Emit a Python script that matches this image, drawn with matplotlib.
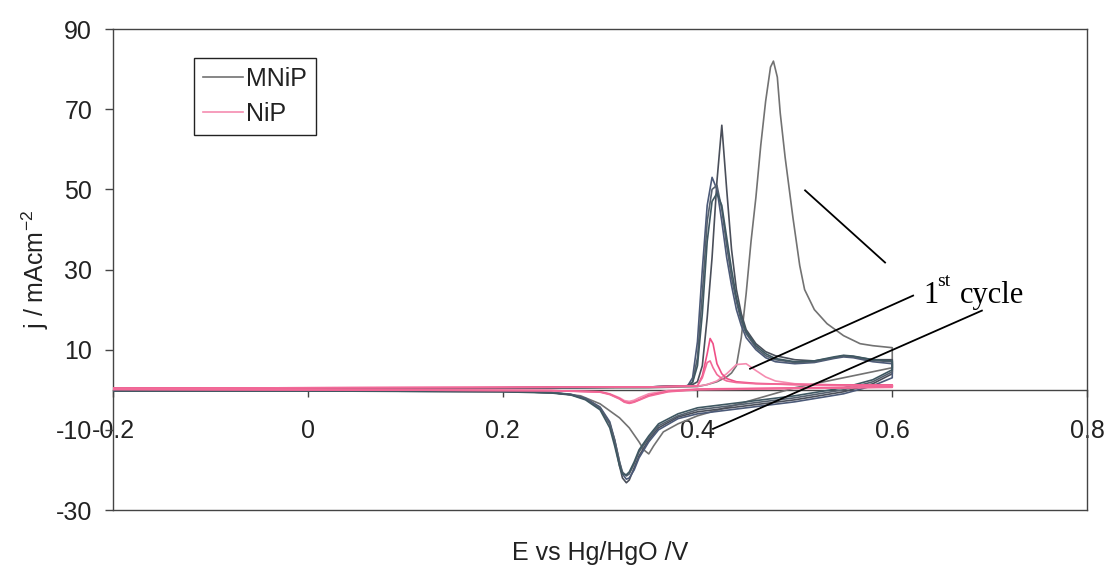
import matplotlib.pyplot as plt

plt.rcParams['font.family'] = ['Liberation Sans', 'DejaVu Sans']
plt.rcParams['mathtext.default'] = 'regular'
plt.rcParams['axes.unicode_minus'] = False

# MNiP, 1st cycle (anodic then cathodic sweep)
mnip1_E_an = [-0.2, 0.0, 0.2, 0.35, 0.40, 0.41, 0.42, 0.43, 0.435, 0.44, 0.445, 0.45, 0.455, 0.46, 0.465,
              0.47, 0.475, 0.478, 0.482, 0.485, 0.49, 0.498, 0.505, 0.51, 0.52, 0.533, 0.55, 0.567, 0.58, 0.60]
mnip1_j_an = [0.2, 0.3, 0.4, 0.5, 0.8, 1.3, 2.0, 3.2, 4.2, 6.0, 13, 24, 37, 48, 61,
              72, 80.5, 82, 78, 69, 58, 43, 31, 25, 20, 16.5, 13.5, 11.5, 11, 10.5]
mnip1_E_ca = [0.60, 0.55, 0.50, 0.45, 0.40, 0.38, 0.365, 0.355, 0.35, 0.345, 0.34, 0.33, 0.32, 0.30,
              0.28, 0.25, 0.2, 0.0, -0.2]
mnip1_j_ca = [5.5, 3.0, 0.5, -3.0, -6.5, -8.5, -10.5, -14, -16, -15, -13, -9.5, -7, -3.5,
              -1.5, -0.7, -0.4, -0.3, -0.3]

# MNiP, later cycles share the same potential grid
mnip_E_an = [-0.2, 0.0, 0.2, 0.35, 0.39, 0.395, 0.40, 0.405, 0.41, 0.415, 0.42, 0.425, 0.43, 0.435,
             0.44, 0.445, 0.45, 0.46, 0.47, 0.48, 0.50, 0.52, 0.54, 0.55, 0.56, 0.58, 0.60]
mnip2_j_an = [0.3, 0.4, 0.5, 0.7, 1.0, 1.3, 2.0, 6, 18, 33, 52, 66, 50, 35,
              25, 19, 15, 11.5, 9.5, 8.5, 7.5, 7.2, 8.0, 8.5, 8.3, 7.5, 7.5]
mnip3_j_an = [0.3, 0.4, 0.5, 0.7, 1.0, 3, 12, 30, 46, 53, 50, 42, 33, 26,
              20, 16, 13, 10, 8, 7, 6.5, 6.8, 7.8, 8.2, 8.0, 7.0, 6.5]
mnip4_j_an = [0.3, 0.4, 0.5, 0.7, 1.0, 2.0, 8, 24, 42, 50, 51, 45, 36, 28,
              22, 17, 14, 10.5, 8.5, 7.5, 6.8, 7.0, 8.0, 8.4, 8.2, 7.3, 7.0]
mnip5_j_an = [0.3, 0.4, 0.5, 0.7, 1.0, 1.8, 6, 19, 37, 47, 49, 46, 38, 30,
              23, 18, 14.5, 11, 9, 7.8, 7.0, 7.2, 8.2, 8.6, 8.4, 7.5, 7.2]

mnip_E_ca = [0.60, 0.58, 0.55, 0.50, 0.45, 0.40, 0.38, 0.36, 0.35, 0.34, 0.335, 0.33, 0.327, 0.323,
             0.32, 0.315, 0.31, 0.30, 0.285, 0.27, 0.25, 0.2, 0.0, -0.2]
mnip2_j_ca = [4.0, 1.5, -0.5, -2.5, -4.0, -5.5, -6.8, -9.5, -12.5, -16.5, -19.5, -22.5, -23.2, -22,
              -19, -13, -8.5, -4.5, -2.2, -1.2, -0.7, -0.4, -0.3, -0.3]
mnip3_j_ca = [3.0, 1.0, -1.0, -3.0, -4.5, -6.0, -7.2, -10, -13, -17, -20, -22, -22.3, -21,
              -18, -12.5, -8, -4.3, -2.1, -1.1, -0.7, -0.4, -0.3, -0.3]
mnip4_j_ca = [4.5, 2.0, 0.0, -2.0, -3.5, -5.0, -6.5, -9.0, -12, -15.5, -18.5, -21, -21.5, -20.5,
              -18, -12.5, -8.5, -4.6, -2.3, -1.2, -0.7, -0.4, -0.3, -0.3]
mnip5_j_ca = [5.0, 2.5, 0.5, -1.5, -3.0, -4.5, -6.0, -8.5, -11.5, -15, -18, -20.5, -21.2, -21,
              -19, -14, -9.5, -5, -2.5, -1.3, -0.8, -0.5, -0.3, -0.3]

# NiP
nip1_E_an = [-0.2, 0.0, 0.2, 0.35, 0.40, 0.41, 0.42, 0.43, 0.44, 0.45, 0.46, 0.47, 0.48, 0.50, 0.55, 0.60]
nip1_j_an = [0.4, 0.5, 0.6, 0.7, 0.9, 1.3, 2.2, 4.0, 6.3, 6.5, 4.8, 3.2, 2.2, 1.5, 1.2, 1.2]
nip_E_an = [-0.2, 0.0, 0.2, 0.35, 0.40, 0.405, 0.41, 0.413, 0.416, 0.42, 0.425, 0.43, 0.44, 0.46, 0.50, 0.55, 0.60]
nip2_j_an = [0.4, 0.5, 0.6, 0.7, 1.0, 3.5, 9.0, 12.8, 11.5, 6.5, 4.0, 2.8, 2.0, 1.6, 1.3, 1.2, 1.2]
nip3_j_an = [0.4, 0.5, 0.6, 0.7, 1.0, 3.0, 6.8, 7.2, 5.5, 3.8, 2.8, 2.2, 1.8, 1.5, 1.3, 1.1, 1.1]
nip_E_ca = [0.60, 0.50, 0.40, 0.37, 0.35, 0.34, 0.335, 0.33, 0.325, 0.32, 0.31, 0.30, 0.25, 0.0, -0.2]
nip1_j_ca = [0.8, 0.5, 0.2, -0.2, -1.0, -2.0, -2.6, -2.9, -2.7, -2.0, -1.0, -0.5, -0.2, 0.0, 0.1]
nip2_j_ca = [0.7, 0.4, 0.1, -0.4, -1.4, -2.5, -3.0, -3.3, -3.0, -2.2, -1.1, -0.5, -0.2, 0.0, 0.1]
nip3_j_ca = [0.6, 0.3, 0.0, -0.5, -1.6, -2.6, -3.1, -3.4, -3.1, -2.3, -1.2, -0.6, -0.2, 0.0, 0.1]

x_ticks = [-0.2, 0, 0.2, 0.4, 0.6, 0.8]
x_ticklabels = ['-0.2', '0', '0.2', '0.4', '0.6', '0.8']
y_ticks = [-30, -10, 10, 30, 50, 70, 90]

mnip_cycles = [
    (mnip1_E_an + mnip1_E_ca, mnip1_j_an + mnip1_j_ca, '#727272'),
    (mnip_E_an + mnip_E_ca, mnip2_j_an + mnip2_j_ca, '#4a4f5a'),
    (mnip_E_an + mnip_E_ca, mnip3_j_an + mnip3_j_ca, '#4c5a78'),
    (mnip_E_an + mnip_E_ca, mnip4_j_an + mnip4_j_ca, '#55606e'),
    (mnip_E_an + mnip_E_ca, mnip5_j_an + mnip5_j_ca, '#3f5862'),
]
nip_cycles = [
    (nip1_E_an + nip_E_ca, nip1_j_an + nip1_j_ca, '#f58cb0'),
    (nip_E_an + nip_E_ca, nip2_j_an + nip2_j_ca, '#ef4f86'),
    (nip_E_an + nip_E_ca, nip3_j_an + nip3_j_ca, '#f26a98'),
]

fig = plt.figure(figsize=(11.07, 5.65), dpi=100)
ax = fig.add_axes([0.1021, 0.0973, 0.8799, 0.8513])

for i, (E, j, c) in enumerate(mnip_cycles):
    ax.plot(E, j, color=c, lw=1.2, zorder=3, label='MNiP' if i == 0 else None)
for i, (E, j, c) in enumerate(nip_cycles):
    ax.plot(E, j, color=c, lw=1.2, zorder=4, label='NiP' if i == 0 else None)

ax.set_xlim(-0.2, 0.8)
ax.set_ylim(-30, 90)
ax.set_xticks(x_ticks)
ax.set_xticklabels(x_ticklabels)
ax.set_yticks(y_ticks)

frame = '#444444'
ax.spines['bottom'].set_position(('data', 0))
for s in ax.spines.values():
    s.set_color(frame)
    s.set_linewidth(1.0)
ax.plot([0, 1], [0, 0], transform=ax.transAxes, color=frame, lw=1.0, clip_on=False)

ax.tick_params(axis='x', direction='out', length=5, width=1, color=frame, pad=16,
               labelsize=18, labelcolor='#222222')
ax.tick_params(axis='y', direction='out', length=6, width=1, color=frame, pad=9,
               labelsize=18, labelcolor='#222222')

ax.set_xlabel('E vs Hg/HgO /V', fontsize=18, color='#222222')
ax.xaxis.set_label_coords(0.5, -0.09)
ax.xaxis.label.set_verticalalignment('center')
ax.set_ylabel('j / mAcm$^{-2}$', fontsize=18, color='#222222')
ax.yaxis.set_label_coords(-0.08, 0.5)
ax.yaxis.label.set_verticalalignment('center')

leg = ax.legend(loc='upper left', bbox_to_anchor=(0.083, 0.94), borderaxespad=0,
                fontsize=18, handlelength=1.6, handletextpad=0.15, borderpad=0.35,
                labelspacing=0.45, fancybox=False, framealpha=1)
leg.get_frame().set_edgecolor('#222222')
leg.get_frame().set_linewidth(1.0)
for t in leg.get_texts():
    t.set_color('#222222')

# annotation lines for the first cycle
ax.plot([0.5105, 0.5926], [49.75, 31.75], color='black', lw=1.3, zorder=5)
ax.plot([0.6214, 0.454], [23.5, 5.25], color='black', lw=1.3, zorder=5)
ax.plot([0.692, 0.416], [19.75, -9.75], color='black', lw=1.3, zorder=5)
ax.text(0.6316, 21.75, '1', fontsize=22, family='Liberation Serif', va='baseline', ha='left')
ax.text(0.6462, 25.8, 'st', fontsize=14, family='Liberation Serif', va='baseline', ha='left')
ax.text(0.6696, 21.75, 'cycle', fontsize=22, family='Liberation Serif', va='baseline', ha='left')

fig.savefig('out.png', dpi=100)
